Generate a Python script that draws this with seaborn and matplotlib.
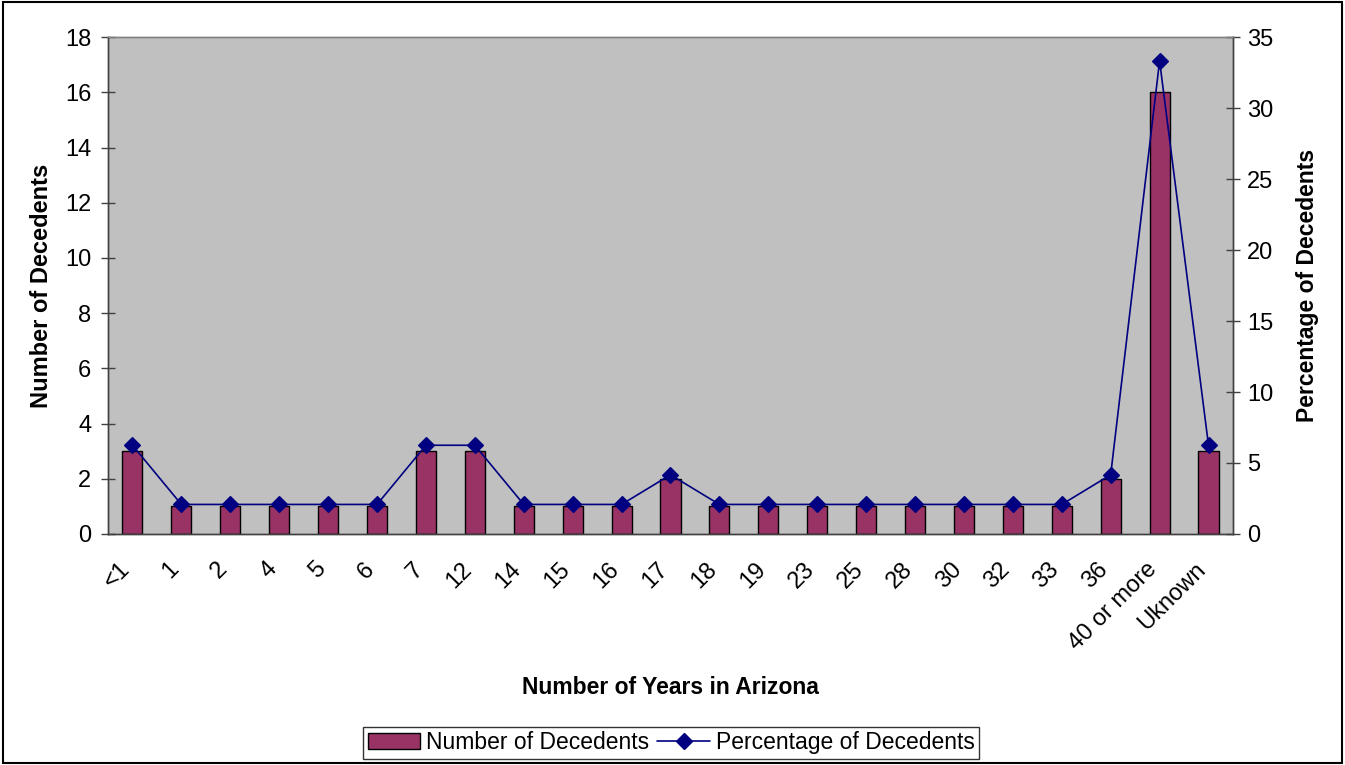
import matplotlib
matplotlib.use('Agg')
import matplotlib.pyplot as plt
import matplotlib.transforms as mtransforms
import seaborn as sns
import pandas as pd
import numpy as np
from matplotlib.patches import Rectangle, Patch
from matplotlib.lines import Line2D

# Data
years = ['<1', '1', '2', '4', '5', '6', '7', '12', '14', '15', '16', '17',
         '18', '19', '23', '25', '28', '30', '32', '33', '36', '40 or more', 'Uknown']
decedents = [3, 1, 1, 1, 1, 1, 3, 3, 1, 1, 1, 2,
             1, 1, 1, 1, 1, 1, 1, 1, 2, 16, 3]
percent = [6.25, 2.08, 2.08, 2.08, 2.08, 2.08, 6.25, 6.25, 2.08, 2.08, 2.08, 4.17,
           2.08, 2.08, 2.08, 2.08, 2.08, 2.08, 2.08, 2.08, 4.17, 33.33, 6.25]

df = pd.DataFrame({'years': years, 'decedents': decedents, 'percent': percent})

sns.set_theme(style='white')
plt.rcParams['font.family'] = ['Liberation Sans', 'DejaVu Sans']
plt.rcParams['text.color'] = 'black'
plt.rcParams['xtick.color'] = 'black'
plt.rcParams['ytick.color'] = 'black'
plt.rcParams['axes.labelcolor'] = 'black'

bar_color = '#993366'
line_color = '#000080'
tick_fs = 17
label_fs = 16.5

fig = plt.figure(figsize=(13.45, 7.65), dpi=100)
ax = fig.add_axes([0.0803, 0.302, 0.8364, 0.6494])
ax.set_facecolor('#C0C0C0')

sns.barplot(data=df, x='years', y='decedents', order=years, color=bar_color,
            width=0.41, edgecolor='black', linewidth=1, saturation=1, ax=ax)

ax2 = ax.twinx()
sns.pointplot(data=df, x='years', y='percent', order=years, color=line_color,
              markers='D', markersize=8.5, linewidth=1.2, ax=ax2)
ax2.patch.set_visible(False)

n = len(years)
ax.set_xlim(-0.5, n - 0.5)
ax.set_ylim(0, 18)
ax.set_yticks(np.arange(0, 19, 2))
ax2.set_ylim(0, 35)
ax2.set_yticks(np.arange(0, 36, 5))

# x ticks between categories
ax.set_xticks(np.arange(-0.5, n, 1), minor=True)
ax.tick_params(axis='x', which='major', length=0, labelsize=tick_fs, pad=23)
ax.tick_params(axis='x', which='minor', direction='out', length=7, width=1, color='#404040')
ax.set_xticklabels(years, rotation=45, ha='right', va='center', rotation_mode='anchor')
shift = mtransforms.ScaledTranslation(-6 / 100, 0, fig.dpi_scale_trans)
for lab in ax.get_xticklabels():
    lab.set_transform(lab.get_transform() + shift)
ax.tick_params(axis='y', direction='inout', length=10, width=1, color='#404040',
               labelsize=tick_fs, left=True, pad=7)
ax2.tick_params(axis='y', direction='inout', length=10, width=1, color='#404040',
                labelsize=tick_fs, right=True, pad=5)

ax.set_xlabel('Number of Years in Arizona', fontsize=label_fs, fontweight='bold')
ax.set_ylabel('Number of Decedents', fontsize=17, fontweight='bold')
ax2.set_ylabel('Percentage of Decedents', fontsize=label_fs, fontweight='bold')
ax.xaxis.set_label_coords(0.5, -0.285)
ax.yaxis.set_label_coords(-0.049, 0.5)
ax2.yaxis.set_label_coords(1.056, 0.5)

for a in (ax, ax2):
    a.spines['top'].set_color('#808080')
    a.spines['left'].set_color('#404040')
    a.spines['bottom'].set_color('#404040')
    a.spines['right'].set_color('#404040')
    for s in a.spines.values():
        s.set_linewidth(1)
ax2.grid(False)
ax.grid(False)

handles = [Patch(facecolor=bar_color, edgecolor='black', linewidth=1),
           Line2D([0], [0], color=line_color, marker='D', markersize=8, linewidth=1.2)]
leg = fig.legend(handles, ['Number of Decedents', 'Percentage of Decedents'],
                 loc='center', bbox_to_anchor=(0.499, 0.029), ncol=2, fontsize=16.5,
                 frameon=True, fancybox=False, edgecolor='black', borderpad=0.2,
                 handlelength=2.3, handletextpad=0.25, columnspacing=0.35)
leg.get_frame().set_linewidth(1)

fig.patches.append(Rectangle((0.002, 0.003), 0.996, 0.994, transform=fig.transFigure,
                             fill=False, edgecolor='black', linewidth=1.5))

fig.savefig('out.png', dpi=100)
